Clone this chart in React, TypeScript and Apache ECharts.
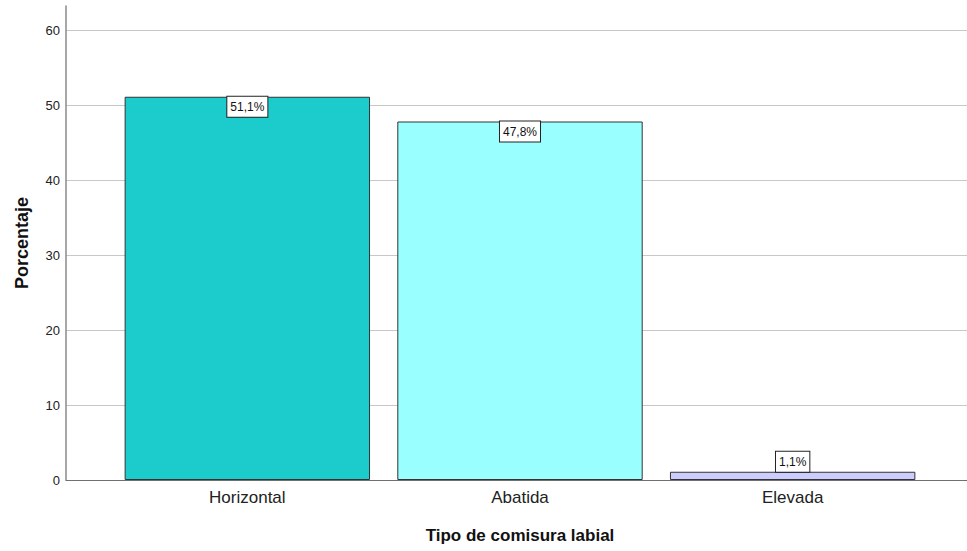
import React, { useEffect, useRef } from "react";
import * as echarts from "echarts";

const categories = ["Horizontal", "Abatida", "Elevada"];
const values = [51.1, 47.8, 1.1];
const barColors = ["#1ccbcb", "#99ffff", "#ccccff"];
const yTicks = [0, 10, 20, 30, 40, 50, 60];

const FONT = "'Liberation Sans', Arial, sans-serif";

export default function App() {
  const ref = useRef<HTMLDivElement>(null);
  useEffect(() => {
    if (!ref.current) return;
    const chart = echarts.init(ref.current, null, { renderer: "svg" });
    const yMax = yTicks[yTicks.length - 1];
    const data = values.map((v, i) => ({
      value: v,
      itemStyle: { color: barColors[i] },
      label: v < 5 ? { position: "top", distance: 0 } : { position: "insideTop", distance: 0 },
    }));
    chart.setOption({
      animation: false,
      textStyle: { fontFamily: FONT },
      grid: [
        { left: 66, right: 0, top: 30, bottom: 71, outerBoundsMode: "none", containLabel: false },
        { left: 66, right: 0, top: 6, bottom: 71, outerBoundsMode: "none", containLabel: false },
        { left: 111, right: 38, top: 30, bottom: 71, outerBoundsMode: "none", containLabel: false },
      ],
      xAxis: [
        {
          gridIndex: 0, type: "value", min: 0, max: 1,
          axisLine: { show: true, lineStyle: { color: "#707070", width: 1 } },
          axisTick: { show: false }, axisLabel: { show: false }, splitLine: { show: false },
        },
        {
          gridIndex: 1, type: "value", min: 0, max: 1, show: false,
        },
        {
          gridIndex: 2, type: "category", data: categories,
          axisLine: { show: false }, axisTick: { show: false },
          axisLabel: { color: "#222", fontSize: 17, fontFamily: FONT, margin: 9 },
          name: "Tipo de comisura labial", nameLocation: "middle", nameGap: 47,
          nameTextStyle: { color: "#111", fontSize: 17, fontWeight: "bold", fontFamily: FONT },
        },
      ],
      yAxis: [
        {
          gridIndex: 0, type: "value", min: 0, max: yMax, interval: 10,
          axisLine: { show: false }, axisTick: { show: false },
          axisLabel: { color: "#222", fontSize: 13, fontFamily: FONT, margin: 6 },
          splitLine: { show: true, lineStyle: { color: "#c8c8c8", width: 1 } },
        },
        {
          gridIndex: 1, type: "value", min: 0, max: 63.2,
          axisLine: { show: true, lineStyle: { color: "#8a8a8a", width: 1.5 } },
          axisTick: { show: false }, axisLabel: { show: false }, splitLine: { show: false },
          name: "Porcentaje", nameLocation: "middle", nameGap: 35,
          nameTextStyle: { color: "#111", fontSize: 18, fontWeight: "bold", fontFamily: FONT },
        },
        {
          gridIndex: 2, type: "value", min: 0, max: yMax, show: false,
        },
      ],
      series: [
        {
          type: "bar",
          xAxisIndex: 2,
          yAxisIndex: 2,
          data,
          barCategoryGap: "10%",
          itemStyle: { borderColor: "#333", borderWidth: 1 },
          label: {
            show: true,
            formatter: (p: any) => p.value.toFixed(1).replace(".", ",") + "%",
            color: "#111",
            fontSize: 12,
            fontFamily: FONT,
            backgroundColor: "#fff",
            borderColor: "#222",
            borderWidth: 1,
            padding: [3, 3, 3, 3],
            lineHeight: 14,
          },
        },
      ],
    });
    return () => chart.dispose();
  }, []);
  return <div ref={ref} style={{ width: 967, height: 551, position: "absolute", left: 0, top: 0 }} />;
}
